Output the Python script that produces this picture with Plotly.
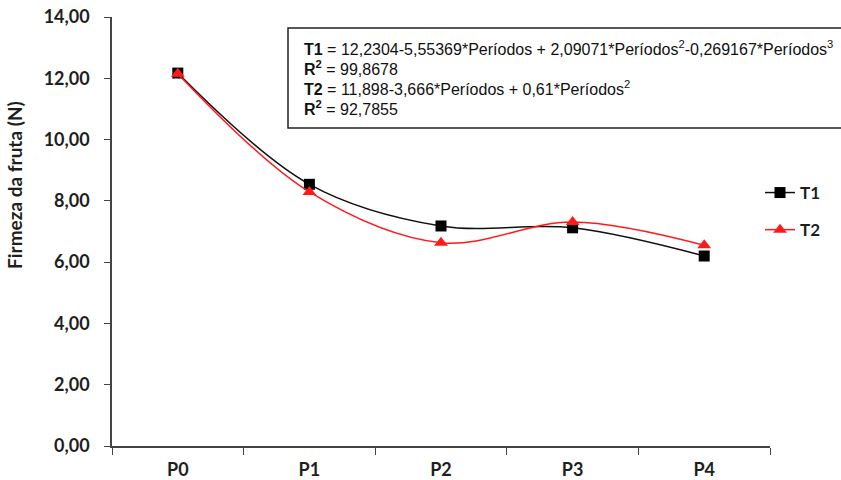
import plotly.graph_objects as go

# Fruit firmness per storage period for two treatments
periodos = ["P0", "P1", "P2", "P3", "P4"]
firmeza_t1 = [12.17, 8.54, 7.18, 7.12, 6.20]
firmeza_t2 = [12.15, 8.29, 6.63, 7.31, 6.55]
y_ticks = [0, 2, 4, 6, 8, 10, 12, 14]

eq_lines = [
    "<b>T1</b> = 12,2304-5,55369*Períodos + 2,09071*Períodos<sup>2</sup>-0,269167*Períodos<sup>3</sup>",
    "<b>R<sup>2</sup></b> = 99,8678",
    "<b>T2</b> = 11,898-3,666*Períodos + 0,61*Períodos<sup>2</sup>",
    "<b>R<sup>2</sup></b> = 92,7855",
]

W, H = 841, 480
L, R, T, B = 112, 71, 17, 34
plot_h = H - T - B
plot_w = W - L - R


def py(pix):
    return (H - B - pix) / plot_h


def px(pix):
    return (pix - L) / plot_w


tick_font = dict(family="Lato", size=18, color="#1e1e1e", weight="bold")
title_font = dict(family="Lato", size=19, color="#1e1e1e", weight="bold")

fig = go.Figure()
fig.add_trace(go.Scatter(
    x=periodos, y=firmeza_t1, name="T1", legendgroup="a",
    mode="lines+markers",
    line=dict(color="#111111", width=1.5, shape="spline", smoothing=1),
    marker=dict(symbol="square", size=11, color="#000000"),
))
fig.add_trace(go.Scatter(
    x=periodos, y=firmeza_t2, name="T2", legendgroup="b",
    mode="lines+markers",
    line=dict(color="#ff1a1a", width=1.5, shape="spline", smoothing=1),
    marker=dict(symbol="triangle-up", size=12, color="#ff1a1a"),
))

# Equation box
fig.add_shape(type="rect", xref="paper", yref="paper",
              x0=px(288), x1=px(860), y0=py(128), y1=py(28),
              line=dict(color="#222222", width=1.5), fillcolor="white")
for i, txt in enumerate(eq_lines):
    fig.add_annotation(text=txt, xref="paper", yref="paper",
                       x=px(302), y=py(48 + 20 * i), xanchor="left", yanchor="middle",
                       showarrow=False, align="left",
                       font=dict(family="Liberation Sans", size=16, color="#111111"))

# Y axis title
fig.add_annotation(text="Firmeza da fruta (N)", xref="paper", yref="paper",
                   x=px(15), y=py(185), xanchor="center", yanchor="middle",
                   textangle=-90, showarrow=False, font=title_font)

fig.update_layout(
    width=W, height=H,
    margin=dict(l=L, r=R, t=T, b=B, pad=0, autoexpand=False),
    paper_bgcolor="white", plot_bgcolor="white",
    separators=",.",
    showlegend=True,
    legend=dict(x=px(760), y=py(175), xanchor="left", yanchor="top",
                font=dict(family="Lato", size=17, color="#1e1e1e", weight="bold"),
                tracegroupgap=12, traceorder="grouped",
                bgcolor="rgba(0,0,0,0)"),
    xaxis=dict(
        type="category", range=[-0.5, 4.5], automargin=False,
        tickson="boundaries", ticks="outside", ticklen=7, tickcolor="#444444",
        showline=True, linecolor="#444444", linewidth=1.5,
        showgrid=False, zeroline=False,
        ticklabelstandoff=7,
        tickfont=tick_font,
    ),
    yaxis=dict(
        range=[0, 14], tickvals=y_ticks, tickformat=".2f", automargin=False,
        ticks="outside", ticklen=6, tickcolor="#444444",
        showline=True, linecolor="#444444", linewidth=1.5,
        showgrid=False, zeroline=False,
        ticklabelstandoff=11,
        tickfont=tick_font,
    ),
)

fig.write_html("out.html")
